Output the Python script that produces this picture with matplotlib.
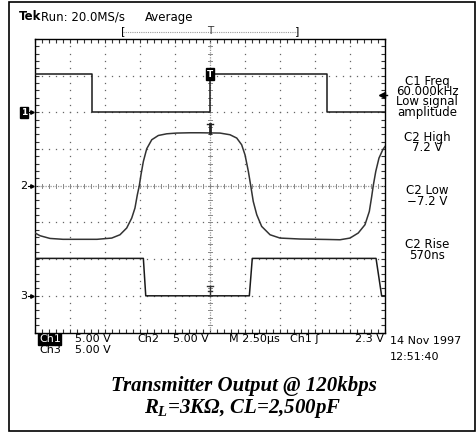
import numpy as np
import matplotlib
matplotlib.use("Agg")
import matplotlib.pyplot as plt
from matplotlib.transforms import blended_transform_factory as blend

# ---------------- data (time in microseconds, amplitude in volts) ----------------
ch1_t = [-12.5, -8.41, -8.41, 0.0, 0.0, 8.34, 8.34, 12.5]
ch1_v = [5.2, 5.2, 0.0, 0.0, 5.2, 5.2, 0.0, 0.0]

ch2_t = [-12.5, -12.14, -11.43, -10.5, -8.07, -7.02, -6.43, -5.95, -5.59, -5.36,
         -5.19, -5.05, -4.93, -4.76, -4.52, -4.16, -3.69, -3.09, -2.38, -1.43,
         -0.71, 0.71, 1.43, 1.91, 2.26, 2.50, 2.74, 2.91, 3.09, 3.34,
         3.69, 4.29, 5.00, 6.43, 8.34, 9.29, 10.0, 10.59, 11.07, 11.38,
         11.55, 11.66, 11.84, 12.07, 12.34, 12.5]
ch2_v = [-6.44, -6.81, -7.18, -7.30, -7.30, -7.13, -6.68, -5.76, -4.40, -3.04,
         -1.23, 0.0, 1.50, 3.31, 5.04, 6.27, 6.85, 7.08, 7.18, 7.22,
         7.22, 7.18, 6.95, 6.50, 5.59, 4.22, 1.95, 0.0, -2.14, -3.95,
         -5.54, -6.68, -7.13, -7.26, -7.32, -7.36, -7.13, -6.44, -5.31, -3.50,
         -1.46, 0.0, 1.95, 3.77, 4.90, 5.35]

ch3_t = [-12.5, -4.76, -4.59, 2.81, 3.02, 11.86, 12.26, 12.5]
ch3_v = [5.1, 5.1, 0.0, 0.0, 5.1, 5.1, 0.0, 0.0]

volts_per_div = [5.0, 5.0, 5.0]
ground_div = [2.0, 0.0, -3.0]
trig_level = 2.3
time_per_div = 2.5
n_hdiv, n_vdiv = 10, 8

header_left = "Run: 20.0MS/s"
header_mode = "Average"
meas_c1 = ["C1 Freq", "60.000kHz", "Low signal", "amplitude"]
meas_high = ["C2 High", "7.2 V"]
meas_low = ["C2 Low", "\u22127.2 V"]
meas_rise = ["C2 Rise", "570ns"]
title1 = "Transmitter Output @ 120kbps"
title2 = "$R_L$=3K\u03a9, CL=2,500pF"

plt.rcParams["mathtext.fontset"] = "custom"
plt.rcParams["mathtext.it"] = "Liberation Serif:bold:italic"
plt.rcParams["mathtext.rm"] = "Liberation Serif:bold:italic"
plt.rcParams["mathtext.bf"] = "Liberation Serif:bold:italic"

W, H = 477, 433
fig = plt.figure(figsize=(W / 100, H / 100), dpi=100)
fig.patch.set_facecolor("white")

# overlay axes in pixel coordinates for frame and screen text
ov = fig.add_axes([0, 0, 1, 1])
ov.set_xlim(0, W)
ov.set_ylim(H, 0)
ov.axis("off")
ov.add_patch(plt.Rectangle((9.5, 2), 465.5, 429, fill=False, lw=1.2, ec="black"))

# graticule axes
gx0, gx1, gy0, gy1 = 35, 385, 39, 332.5
ax = fig.add_axes([gx0 / W, 1 - gy1 / H, (gx1 - gx0) / W, (gy1 - gy0) / H])
half_t = n_hdiv / 2 * time_per_div
ax.set_xlim(-half_t, half_t)
ax.set_ylim(-n_vdiv / 2, n_vdiv / 2)
ax.set_facecolor("white")
for s in ax.spines.values():
    s.set_linewidth(1.0)
    s.set_color("black")
ax.set_xticks(np.arange(-half_t, half_t + 0.01, time_per_div / 5))
ax.set_yticks(np.arange(-n_vdiv / 2, n_vdiv / 2 + 0.01, 0.2))
ax.tick_params(direction="in", length=3, width=0.8, top=True, right=True,
               labelbottom=False, labelleft=False, color="#333333")

# grid dots
dot_kw = dict(ls="none", marker="s", ms=0.9, mec="none", color="#666666")
for k in range(1, n_hdiv):
    t = -half_t + k * time_per_div
    if abs(t) < 1e-9:
        continue
    ys = np.arange(-n_vdiv / 2, n_vdiv / 2 + 0.01, 0.2)
    ax.plot(np.full_like(ys, t), ys, **dot_kw)
for k in range(1, n_vdiv):
    y = -n_vdiv / 2 + k
    if y == 0:
        continue
    xs = np.arange(-half_t, half_t + 0.01, time_per_div / 5)
    ax.plot(xs, np.full_like(xs, y), **dot_kw)

# center cross lines with ticks
ax.axhline(0, color="#999999", lw=0.9, ls=(0, (1, 1)))
ax.axvline(0, color="#999999", lw=0.9, ls=(0, (1, 1)))
for t in np.arange(-half_t, half_t + 0.01, time_per_div / 5):
    ax.plot([t, t], [-0.06, 0.06], color="#888888", lw=0.7)
for y in np.arange(-n_vdiv / 2, n_vdiv / 2 + 0.01, 0.2):
    ax.plot([-0.15, 0.15], [y, y], color="#888888", lw=0.7)

# traces
def to_div(v, ch):
    return np.asarray(v) / volts_per_div[ch] + ground_div[ch]

ax.plot(ch1_t, to_div(ch1_v, 0), color="#1a1a1a", lw=1.1, zorder=5)
ax.plot(ch2_t, to_div(ch2_v, 1), color="#333333", lw=1.1, zorder=5)
ax.plot(ch3_t, to_div(ch3_v, 2), color="#1a1a1a", lw=1.1, zorder=5)

# markers on traces at trigger point
hi1 = to_div([ch1_v[-4]], 0)[0]
ax.text(0, hi1, "T", color="white", fontsize=6.5, fontweight="bold", ha="center",
        va="center", zorder=7,
        bbox=dict(boxstyle="square,pad=0.15", fc="black", ec="black"))
hi2 = to_div([max(ch2_v)], 1)[0]
ax.plot([0, 0], [hi2, hi2 + 0.24], color="#222222", lw=2.0, zorder=6)
ax.plot([-0.2, 0.2], [hi2 + 0.24, hi2 + 0.24], color="#222222", lw=1.0, zorder=6)
lo3 = to_div([0.0], 2)[0]
ax.plot([0, 0], [lo3, lo3 + 0.28], color="#333333", lw=1.0, zorder=6)
ax.plot([-0.2, 0.2], [lo3 + 0.28, lo3 + 0.28], color="#333333", lw=1.0, zorder=6)
ax.plot([-0.15, 0.15], [lo3 + 0.14, lo3 + 0.14], color="#333333", lw=1.0, zorder=6)

# channel ground markers on the left
tr_left = blend(ov.transData, ax.transData)
for ch, label in enumerate(["1", "2", "3"]):
    y = ground_div[ch]
    if ch == 0:
        ov.text(24, y, label, transform=tr_left, color="white", fontsize=6.5,
                fontweight="bold", ha="center", va="center",
                bbox=dict(boxstyle="square,pad=0.08", fc="black", ec="black"))
    else:
        ov.text(24, y, label, transform=tr_left, color="black", fontsize=8,
                ha="center", va="center")
    ov.plot([28, 32], [y, y], transform=tr_left, color="black", lw=0.8)
    ov.plot([32.5], [y], transform=tr_left, marker=">", ms=2.5, color="black")

# trigger level arrow at right (drawn on the graticule axes, above its background)
ytrig = trig_level / volts_per_div[0] + ground_div[0]
ax.plot([382, 387.5], [ytrig, ytrig], transform=tr_left, color="black", lw=1.0,
        clip_on=False, zorder=8)
ax.plot([382.5], [ytrig], transform=tr_left, marker="<", ms=4, color="black",
        clip_on=False, zorder=8)

# top record bracket and trigger position
tr_top = blend(ax.transData, ov.transData)
ov.plot([123, 297], [31.5, 31.5], color="#999999", lw=0.8, ls=(0, (1, 1)))
ov.text(123, 31.5, "[", fontsize=8, ha="center", va="center")
ov.text(297, 31.5, "]", fontsize=8, ha="center", va="center")
ov.text(0, 30.5, "T", transform=tr_top, fontsize=7.5, ha="center", va="center",
        color="#333333")

# header
sans = "DejaVu Sans"
ov.text(19, 17, "Tek", fontsize=8.5, fontweight="bold", family=sans, va="center")
ov.text(41.5, 17, header_left, fontsize=8.5, family=sans, va="center")
ov.text(145, 17, header_mode, fontsize=8.5, family=sans, va="center")

# right-hand measurement column (one text block per readout)
def col(lines, ytop, ls=0.78):
    ov.text(427, ytop, "\n".join(lines), fontsize=8.5, family=sans, ha="center",
            va="top", multialignment="center", linespacing=ls)

col(meas_c1, 75, 0.72)
col(meas_high, 130.5)
col(meas_low, 184.5)
col(meas_rise, 238.5)

# bottom status line
ov.text(39, 339, "Ch1", fontsize=8, family=sans, color="white", va="center",
        bbox=dict(boxstyle="square,pad=0.05", fc="black", ec="black"))
ov.text(75, 339, "5.00 V", fontsize=8, family=sans, va="center")
ov.text(137, 339, "Ch2", fontsize=8, family=sans, va="center")
ov.text(173, 339, "5.00 V", fontsize=8, family=sans, va="center")
ov.text(229, 339, "M 2.50\u00b5s", fontsize=8, family=sans, va="center")
ov.text(290, 339, "Ch1 \u0283", fontsize=8, family=sans, va="center")
ov.text(384, 339, f"{trig_level} V", fontsize=8, family=sans, va="center", ha="right")
ov.text(39, 350, "Ch3", fontsize=8, family=sans, va="center")
ov.text(75, 350, "5.00 V", fontsize=8, family=sans, va="center")
ov.text(390, 341.5, "14 Nov 1997", fontsize=8, family=sans, va="center")
ov.text(390, 356.5, "12:51:40", fontsize=8, family=sans, va="center")

# caption
ov.text(244, 385.5, title1, fontsize=15, family="Liberation Serif",
        fontweight="bold", style="italic", ha="center", va="center")
ov.text(243, 408, title2, fontsize=15, family="Liberation Serif",
        fontweight="bold", style="italic", ha="center", va="center")

fig.savefig("out.png", dpi=100)
